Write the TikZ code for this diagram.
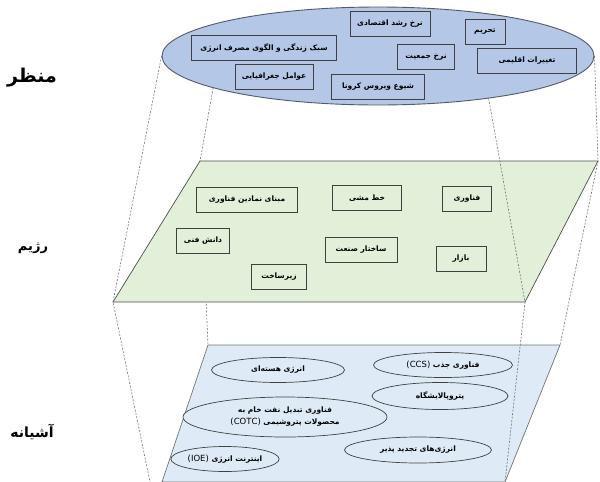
\documentclass[tikz,border=0pt]{standalone}
\usepackage{fontspec}
\usetikzlibrary{shapes.geometric}
\newfontfamily\arabicfont[Script=Arabic]{DejaVu Sans}
\TeXXeTstate=1
\definecolor{landblue}{HTML}{B4C7E7}
\definecolor{regimegreen}{HTML}{E2F0D9}
\definecolor{nicheblue}{HTML}{DEEBF7}
\newcommand{\fatext}[1]{\beginR #1\endR}
\newcommand{\latinpart}[1]{\beginL{\mdseries\fontsize{8.5}{12}\selectfont #1}\endL}

\tikzset{
  landbox/.style={draw=black!75, line width=0.8pt, fill=landblue, minimum height=25pt,
    inner sep=2pt, font=\arabicfont\bfseries\fontsize{7.5}{10}\selectfont},
  regbox/.style={landbox, fill=regimegreen},
  nicheoval/.style={ellipse, draw=black!75, line width=0.7pt, fill=nicheblue,
    minimum height=25pt, inner sep=1pt, align=center,
    font=\arabicfont\bfseries\fontsize{7.5}{12}\selectfont},
  levellabel/.style={font=\arabicfont\bfseries},
  guide/.style={draw=black!55, line width=0.6pt, dash pattern=on 2pt off 1.5pt},
}

\begin{document}
\begin{tikzpicture}[x=1pt,y=-1pt]
\useasboundingbox (0,0) rectangle (600,482);

% landscape
\node[ellipse, draw=black!55!landblue, line width=0.9pt, fill=landblue, minimum width=432pt,
  minimum height=98pt, inner sep=0pt] (landscape) at (378,56) {};

% corners of the two planes
\coordinate (gTL) at (200,161);
\coordinate (gTR) at (598,161);
\coordinate (gBR) at (525,302);
\coordinate (gBL) at (113,302);
\coordinate (bTL) at (208,345);
\coordinate (bTR) at (560,345);
\coordinate (bBR) at (505,482);
\coordinate (bBL) at (162,482);
\coordinate (leftend) at (150,482);

\draw[guide] (landscape.191) -- (gTL) -- (bTL);

% regime and niche planes
\draw[fill=regimegreen, draw=black!70, line width=0.7pt] (gTL) -- (gTR) -- (gBR) -- (gBL) -- cycle;
\draw[fill=nicheblue, draw=black!55, line width=0.7pt] (bTL) -- (bTR) -- (bBR) -- (bBL) -- cycle;

\draw[guide] (landscape.180) -- (gBL) -- (leftend);
\draw[guide] (landscape.339) -- (gBR) -- (bBR);
\draw[guide] (landscape.0) -- (gTR) -- (bTR);

% landscape factors
\node[landbox, minimum width=80pt] (growth) at (390,24) {\fatext{نرخ رشد اقتصادی}};
\node[landbox, minimum width=40pt] (sanction) at (485,32) {\fatext{تحریم}};
\node[landbox, minimum width=145pt] (lifestyle) at (264,48) {\fatext{سبک زندگی و الگوی مصرف انرژی}};
\node[landbox, minimum width=57pt] (population) at (426,57) {\fatext{نرخ جمعیت}};
\node[landbox, minimum width=99pt] (climate) at (527,61) {\fatext{تغییرات اقلیمی}};
\node[landbox, minimum width=78pt] (geography) at (274,77) {\fatext{عوامل جغرافیایی}};
\node[landbox, minimum width=93pt] (corona) at (378,87) {\fatext{شیوع ویروس کرونا}};

% regime elements
\node[regbox, minimum width=101pt] (symbolic) at (247,200) {\fatext{مبنای نمادین فناوری}};
\node[regbox, minimum width=69pt] (policy) at (367,198) {\fatext{خط مشی}};
\node[regbox, minimum width=49pt] (technology) at (467,199) {\fatext{فناوری}};
\node[regbox, minimum width=53pt] (knowhow) at (203,241) {\fatext{دانش فنی}};
\node[regbox, minimum width=72pt] (industry) at (361,250) {\fatext{ساختار صنعت}};
\node[regbox, minimum width=50pt] (market) at (461,259) {\fatext{بازار}};
\node[regbox, minimum width=55pt] (infra) at (279,277) {\fatext{زیرساخت}};

% niche innovations
\node[nicheoval, minimum width=133pt] (nuclear) at (278,370) {\fatext{انرژی هسته^^^^200cای}};
\node[nicheoval, minimum width=139pt] (ccs) at (443,365) {\fatext{فناوری جذب \latinpart{(CCS)}}};
\node[nicheoval, minimum width=136pt, minimum height=27pt] (refinery) at (440,396) {\fatext{پتروپالایشگاه}};
\node[nicheoval, minimum width=204pt, minimum height=40pt] (cotc) at (285,417)
  {\fatext{فناوری تبدیل نفت خام به}\\ \fatext{محصولات پتروشیمی \latinpart{(COTC)}}};
\node[nicheoval, minimum width=147pt, minimum height=26pt] (renewable) at (418,450) {\fatext{انرژی^^^^200cهای تجدید پذیر}};
\node[nicheoval, minimum width=100pt] (ioe) at (225,459) {\fatext{اینترنت انرژی \latinpart{(IOE)}}};

% level names
\node[levellabel, font=\arabicfont\bfseries\fontsize{19}{22}\selectfont] (landscapelbl) at (32,78) {\fatext{منظر}};
\node[levellabel, font=\arabicfont\bfseries\fontsize{13}{16}\selectfont] (regimelbl) at (33,248) {\fatext{رژیم}};
\node[levellabel, font=\arabicfont\bfseries\fontsize{14}{17}\selectfont] (nichelbl) at (32,432) {\fatext{آشیانه}};
\end{tikzpicture}
\end{document}
